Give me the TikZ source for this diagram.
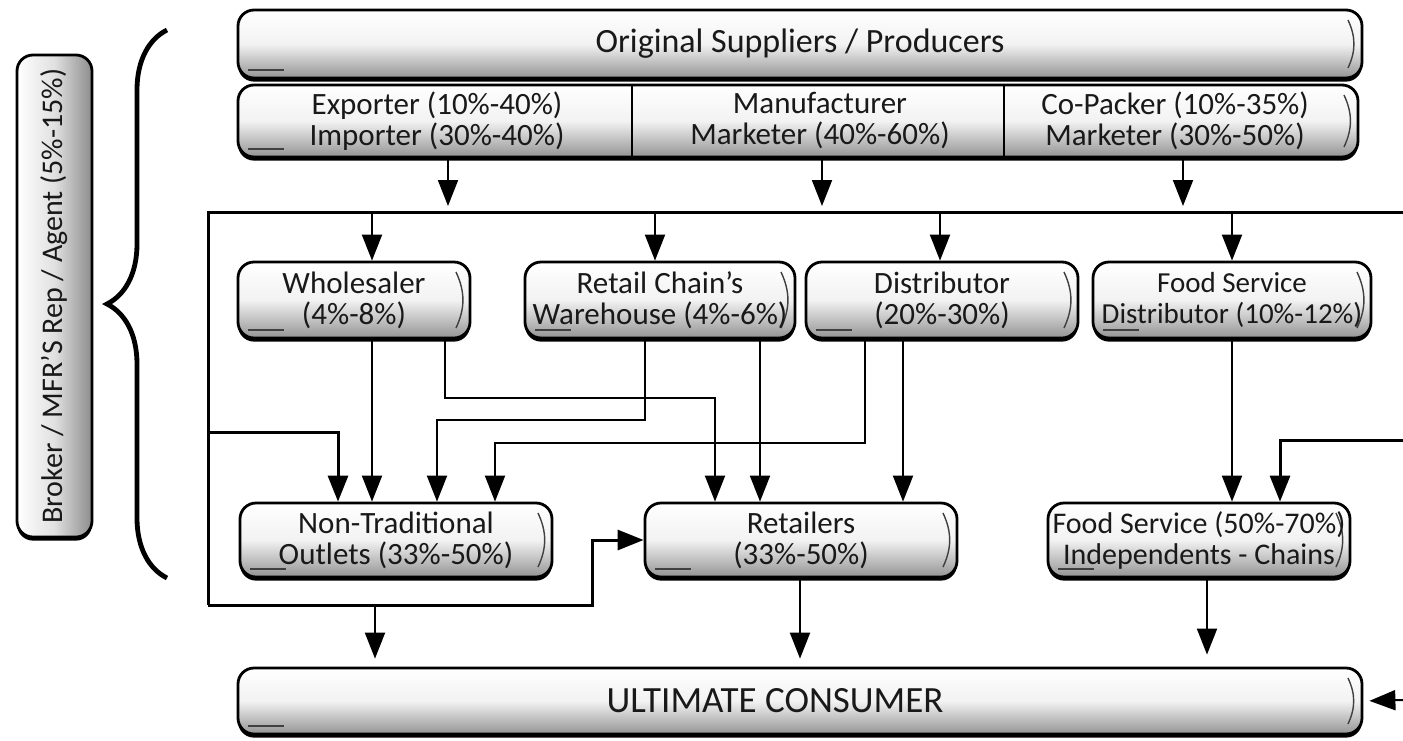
\documentclass[tikz,border=0pt]{standalone}
\usepackage{fontspec}
\setmainfont{Carlito}
\usetikzlibrary{arrows.meta,shadows,decorations.pathreplacing,calc}

\begin{document}
\begin{tikzpicture}[x=0.5pt,y=-0.5pt,
  txt/.style={font=\fontsize{15.5}{15.5}\selectfont, align=center, text=black!90, inner sep=0pt},
  fs/.style={font=\fontsize{#1}{15.5}\selectfont},
  pillbase/.style={draw=black, line width=1.4pt, rounded corners=8pt,
    top color=white, bottom color=black!42, middle color=black!5,
    drop shadow={shadow xshift=0pt, shadow yshift=-1.8pt, fill=black, opacity=1},
    txt},
  pill/.style={pillbase,
    path picture={
      \draw[line width=0.7pt, black!75]
        ([xshift=-7pt,yshift=-5pt]path picture bounding box.north east)
        to[bend left=25]
        ([xshift=-7pt,yshift=5pt]path picture bounding box.south east);
      \draw[line width=0.7pt, black!75]
        ([xshift=5pt,yshift=4pt]path picture bounding box.south west) -- ++(18pt,0pt);
    }},
  link/.style={line width=1pt, draw=black},
  heavy/.style={line width=1.5pt, draw=black},
  tip/.style={-{Triangle[length=13pt,width=10pt]}},
  arr/.style={link, tip},
  harr/.style={heavy, tip}]

\useasboundingbox (0,0) rectangle (1403,740);

% ---- supply tiers ----
\node[pill, fs=17, minimum width=562pt, minimum height=34pt] (top) at (800,44)
  {Original Suppliers / Producers};
\node[pill, minimum width=560pt, minimum height=36pt] (row2) at (798,121) {};
\draw[link] (row2.north -| 632,0) -- (row2.south -| 632,0);
\draw[link] (row2.north -| 1004,0) -- (row2.south -| 1004,0);
\node[txt] (exp) at (437,121) {Exporter (10\%-40\%)\\Importer (30\%-40\%)};
\node[txt] (man) at (820,121) {Manufacturer\\Marketer (40\%-60\%)};
\node[txt] (cop) at (1175,121) {Co-Packer (10\%-35\%)\\Marketer (30\%-50\%)};

% ---- broker bracket ----
\node[draw=black, line width=1.4pt, rounded corners=8pt,
  left color=white, right color=black!45, middle color=black!12,
  drop shadow={shadow xshift=0pt, shadow yshift=-1.8pt, fill=black, opacity=1},
  txt, fs=15, minimum width=37.5pt, minimum height=241pt] (broker) at (54.5,296)
  {\rotatebox{90}{Broker / MFR'S Rep / Agent (5\%-15\%)}};
\draw[decorate, decoration={brace, amplitude=30pt}, line width=2.4pt]
  (167,578) -- (167,30);

% ---- intermediaries ----
\node[pill, minimum width=116pt, minimum height=38pt] (whole) at (354,300)
  {Wholesaler\\(4\%-8\%)};
\node[pill, minimum width=135pt, minimum height=38pt] (rcw) at (660,300)
  {Retail Chain's\\Warehouse (4\%-6\%)};
\node[pill, fs=15.5, minimum width=136pt, minimum height=38pt] (dist) at (942,300)
  {Distributor\\(20\%-30\%)};
\node[pill, fs=14.5, minimum width=139pt, minimum height=38pt] (fsd) at (1232,300)
  {Food Service\\Distributor (10\%-12\%)};

% ---- outlets ----
\node[pill, fs=15.5, minimum width=156pt, minimum height=37pt] (nto) at (396,540)
  {Non-Traditional\\Outlets (33\%-50\%)};
\node[pill, fs=15.5, minimum width=156pt, minimum height=37pt] (ret) at (801,540)
  {Retailers\\(33\%-50\%)};
\node[pill, fs=15, minimum width=151pt, minimum height=37pt] (fsi) at (1199,540)
  {Food Service (50\%-70\%)\\Independents - Chains};

% ---- consumer ----
\node[pill, fs=18.5, minimum width=562pt, minimum height=33pt] (cons) at (800,701)
  {\hspace*{-25pt}ULTIMATE CONSUMER};

% ---- distribution bus ----
\coordinate (busL) at (208,212);
\coordinate (busR) at (1403,212);
\coordinate (loopBL) at (208,605);
\coordinate (inR) at (1403,440);
\coordinate (inC) at (1403,700);
\draw[heavy] (busR) -- (busL) -- (loopBL);

\foreach \x in {448,822,1183}
  \draw[arr, shorten >=3pt] (row2.south -| \x,0) -- (busL -| \x,0);

\draw[arr] (busL -| 372,0) -- (whole.north -| 372,0);
\draw[arr] (busL -| 655,0) -- (rcw.north -| 655,0);
\draw[arr] (busL -| 940,0) -- (dist.north -| 940,0);
\draw[arr] (busL -| 1232,0) -- (fsd.north -| 1232,0);

% ---- intermediaries to outlets ----
\draw[arr] (whole.south -| 372,0) -- (nto.north -| 372,0);
\draw[arr] (whole.south -| 445,0) |- (715,398) -- (ret.north -| 715,0);
\draw[arr] (rcw.south -| 645,0) |- (437,420) -- (nto.north -| 437,0);
\draw[arr] (rcw.south -| 760,0) -- (ret.north -| 760,0);
\draw[arr] (dist.south -| 865,0) |- (495,443) -- (nto.north -| 495,0);
\draw[arr] (dist.south -| 903,0) -- (ret.north -| 903,0);
\draw[arr] (fsd.south -| 1232,0) -- (fsi.north -| 1232,0);
\draw[harr] (inR) -| (fsi.north -| 1280,0);

% ---- direct routes ----
\draw[harr] (busL |- 0,432) -| (nto.north -| 338,0);
\draw[harr] (loopBL) -| (592,540) -- (ret.west);

% ---- outlets to consumer ----
\draw[arr, shorten >=4pt] (loopBL -| 375,0) -- (cons.north -| 375,0);
\draw[arr, shorten >=4pt] (ret.south -| 800,0) -- (cons.north -| 800,0);
\draw[arr, shorten >=6pt] (fsi.south -| 1207,0) -- (cons.north -| 1207,0);
\draw[arr, shorten >=3pt] (inC) -- (cons.east);

\end{tikzpicture}
\end{document}
